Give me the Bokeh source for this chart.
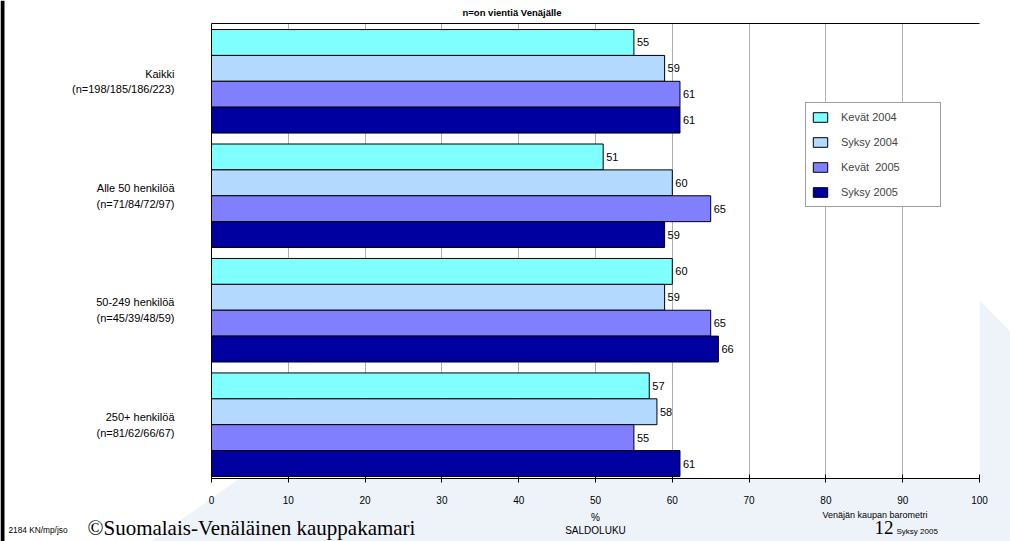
from bokeh.plotting import figure
from bokeh.models import (Range1d, FixedTicker, LinearAxis, Legend, LegendItem,
                          ColumnDataSource)
from bokeh.layouts import column
from bokeh.embed import file_html
from bokeh.resources import INLINE
from bokeh.core.properties import value

# ---- data ----
groups = ["Kaikki\n(n=198/185/186/223)",
          "Alle 50 henkilöä\n(n=71/84/72/97)",
          "50-249 henkilöä\n(n=45/39/48/59)",
          "250+ henkilöä\n(n=81/62/66/67)"]
series = ["Kevät 2004", "Syksy 2004", "Kevät  2005", "Syksy 2005"]
kevat_2004 = [55, 51, 60, 57]
syksy_2004 = [59, 60, 59, 58]
kevat_2005 = [61, 65, 65, 55]
syksy_2005 = [61, 59, 66, 61]
values = [kevat_2004, syksy_2004, kevat_2005, syksy_2005]
colors = ["#80FFFF", "#B3D9FF", "#8080FF", "#0000A0"]
x_ticks = [0, 10, 20, 30, 40, 50, 60, 70, 80, 90, 100]
title_text = "n=on vientiä Venäjälle"

FONT = "Liberation Sans"
SERIF = "Liberation Serif"
W, H = 1010, 541
h = 26 / 115.0

# ---------- background slide (title, footer texts, decoration) ----------
bg = figure(width=W, height=H, output_backend="svg", toolbar_location=None,
            x_range=Range1d(0, W), y_range=Range1d(H, 0),
            x_axis_type=None, y_axis_type=None,
            min_border=0, min_border_left=0, min_border_right=0,
            min_border_top=0, min_border_bottom=0)
bg.frame_align = False
bg.outline_line_color = None
bg.grid.grid_line_color = None
bg.background_fill_color = "white"
bg.border_fill_color = "white"
bg.patch(x=[150, 239, 979, 979, 1010, 1010], y=[541, 478, 478, 300, 331, 541],
         fill_color="#EEF3FA", line_color=None)
bg.quad(left=0, right=4, top=0, bottom=541, fill_color="black", line_color=None)

def bgtext(x, y, text, size, font, style="normal", align="left"):
    bg.text(x=[x], y=[y], text=[text], text_font=value(font), text_font_size=size,
            text_font_style=style, text_baseline="middle", text_align=align,
            text_color="black")

bgtext(561, 12, title_text, "9.5px", FONT, style="bold", align="right")
bgtext(8, 529, "2184 KN/mp/jso", "8.3px", FONT)
bgtext(87, 527, "©Suomalais-Venäläinen kauppakamari", "21px", SERIF)
bgtext(822, 514, "Venäjän kaupan barometri", "9px", FONT)
bgtext(874, 527, "12", "19px", SERIF)
bgtext(896, 531, "Syksy 2005", "8px", FONT)

# ---------- main chart ----------
p = figure(width=W, height=H, output_backend="svg", toolbar_location=None,
           x_range=Range1d(0, 100), y_range=Range1d(3.47, -0.505),
           min_border_left=211, min_border_right=31, min_border_top=23,
           min_border_bottom=63, x_axis_location="below")
p.frame_align = False
p.background_fill_color = "white"
p.border_fill_color = None
p.border_fill_alpha = 0
p.outline_line_color = None
p.styles = {"margin-top": f"-{H}px"}

renderers = []
for j, (s, vals, c) in enumerate(zip(series, values, colors)):
    ys = [i + (j - 1.5) * h for i in range(len(groups))]
    src = ColumnDataSource(dict(y=ys, v=vals, t=[str(v) for v in vals]))
    r = p.hbar(y="y", left=0, right="v", height=h, source=src,
               fill_color=c, line_color="black", line_width=1)
    renderers.append(r)
    p.text(x="v", y="y", text="t", source=src, x_offset=3,
           text_baseline="middle", text_align="left",
           text_font=value(FONT), text_font_size="11px", text_color="black")

xa = p.xaxis[0]
xa.ticker = FixedTicker(ticks=x_ticks)
xa.axis_line_color = "black"
xa.axis_line_width = 1
xa.major_tick_in = 4
xa.major_tick_out = 4
xa.major_tick_line_color = "black"
xa.minor_tick_line_color = None
xa.major_label_text_font = FONT
xa.major_label_text_font_size = "10px"
xa.major_label_text_color = "black"
xa.major_label_standoff = 13
xa.axis_label = "%\nSALDOLUKU"
xa.axis_label_text_font = FONT
xa.axis_label_text_font_size = "10px"
xa.axis_label_text_font_style = "normal"
xa.axis_label_text_color = "black"
xa.axis_label_standoff = 5

ya = p.yaxis[0]
ya.ticker = FixedTicker(ticks=[0, 1, 2, 3])
ya.major_label_overrides = {i: g for i, g in enumerate(groups)}
ya.axis_line_color = "black"
ya.major_tick_line_color = None
ya.minor_tick_line_color = None
ya.major_label_text_font = FONT
ya.major_label_text_font_size = "11px"
ya.major_label_text_line_height = 1.3
ya.major_label_text_color = "black"
ya.major_label_standoff = 31

top = LinearAxis(ticker=FixedTicker(ticks=[]), axis_line_color="black",
                 major_tick_line_color=None, minor_tick_line_color=None,
                 major_tick_out=0, major_tick_in=0, major_label_standoff=0,
                 major_label_text_font_size="0px")
p.add_layout(top, "above")

p.xgrid.grid_line_color = "#B0B0B0"
p.xgrid.ticker = FixedTicker(ticks=x_ticks)
p.ygrid.grid_line_color = None

legend = Legend(items=[LegendItem(label=s, renderers=[r]) for s, r in zip(series, renderers)],
                location=(594, 271), orientation="vertical",
                label_text_font=FONT, label_text_font_size="11px",
                glyph_width=18, glyph_height=12, label_standoff=12,
                label_height=18, spacing=7, padding=5, margin=0,
                label_width=94,
                border_line_color="#404040", border_line_width=1,
                background_fill_color="white", background_fill_alpha=1)
p.add_layout(legend)

layout = column(bg, p, spacing=0)
open("out.html", "w").write(file_html(layout, INLINE))
